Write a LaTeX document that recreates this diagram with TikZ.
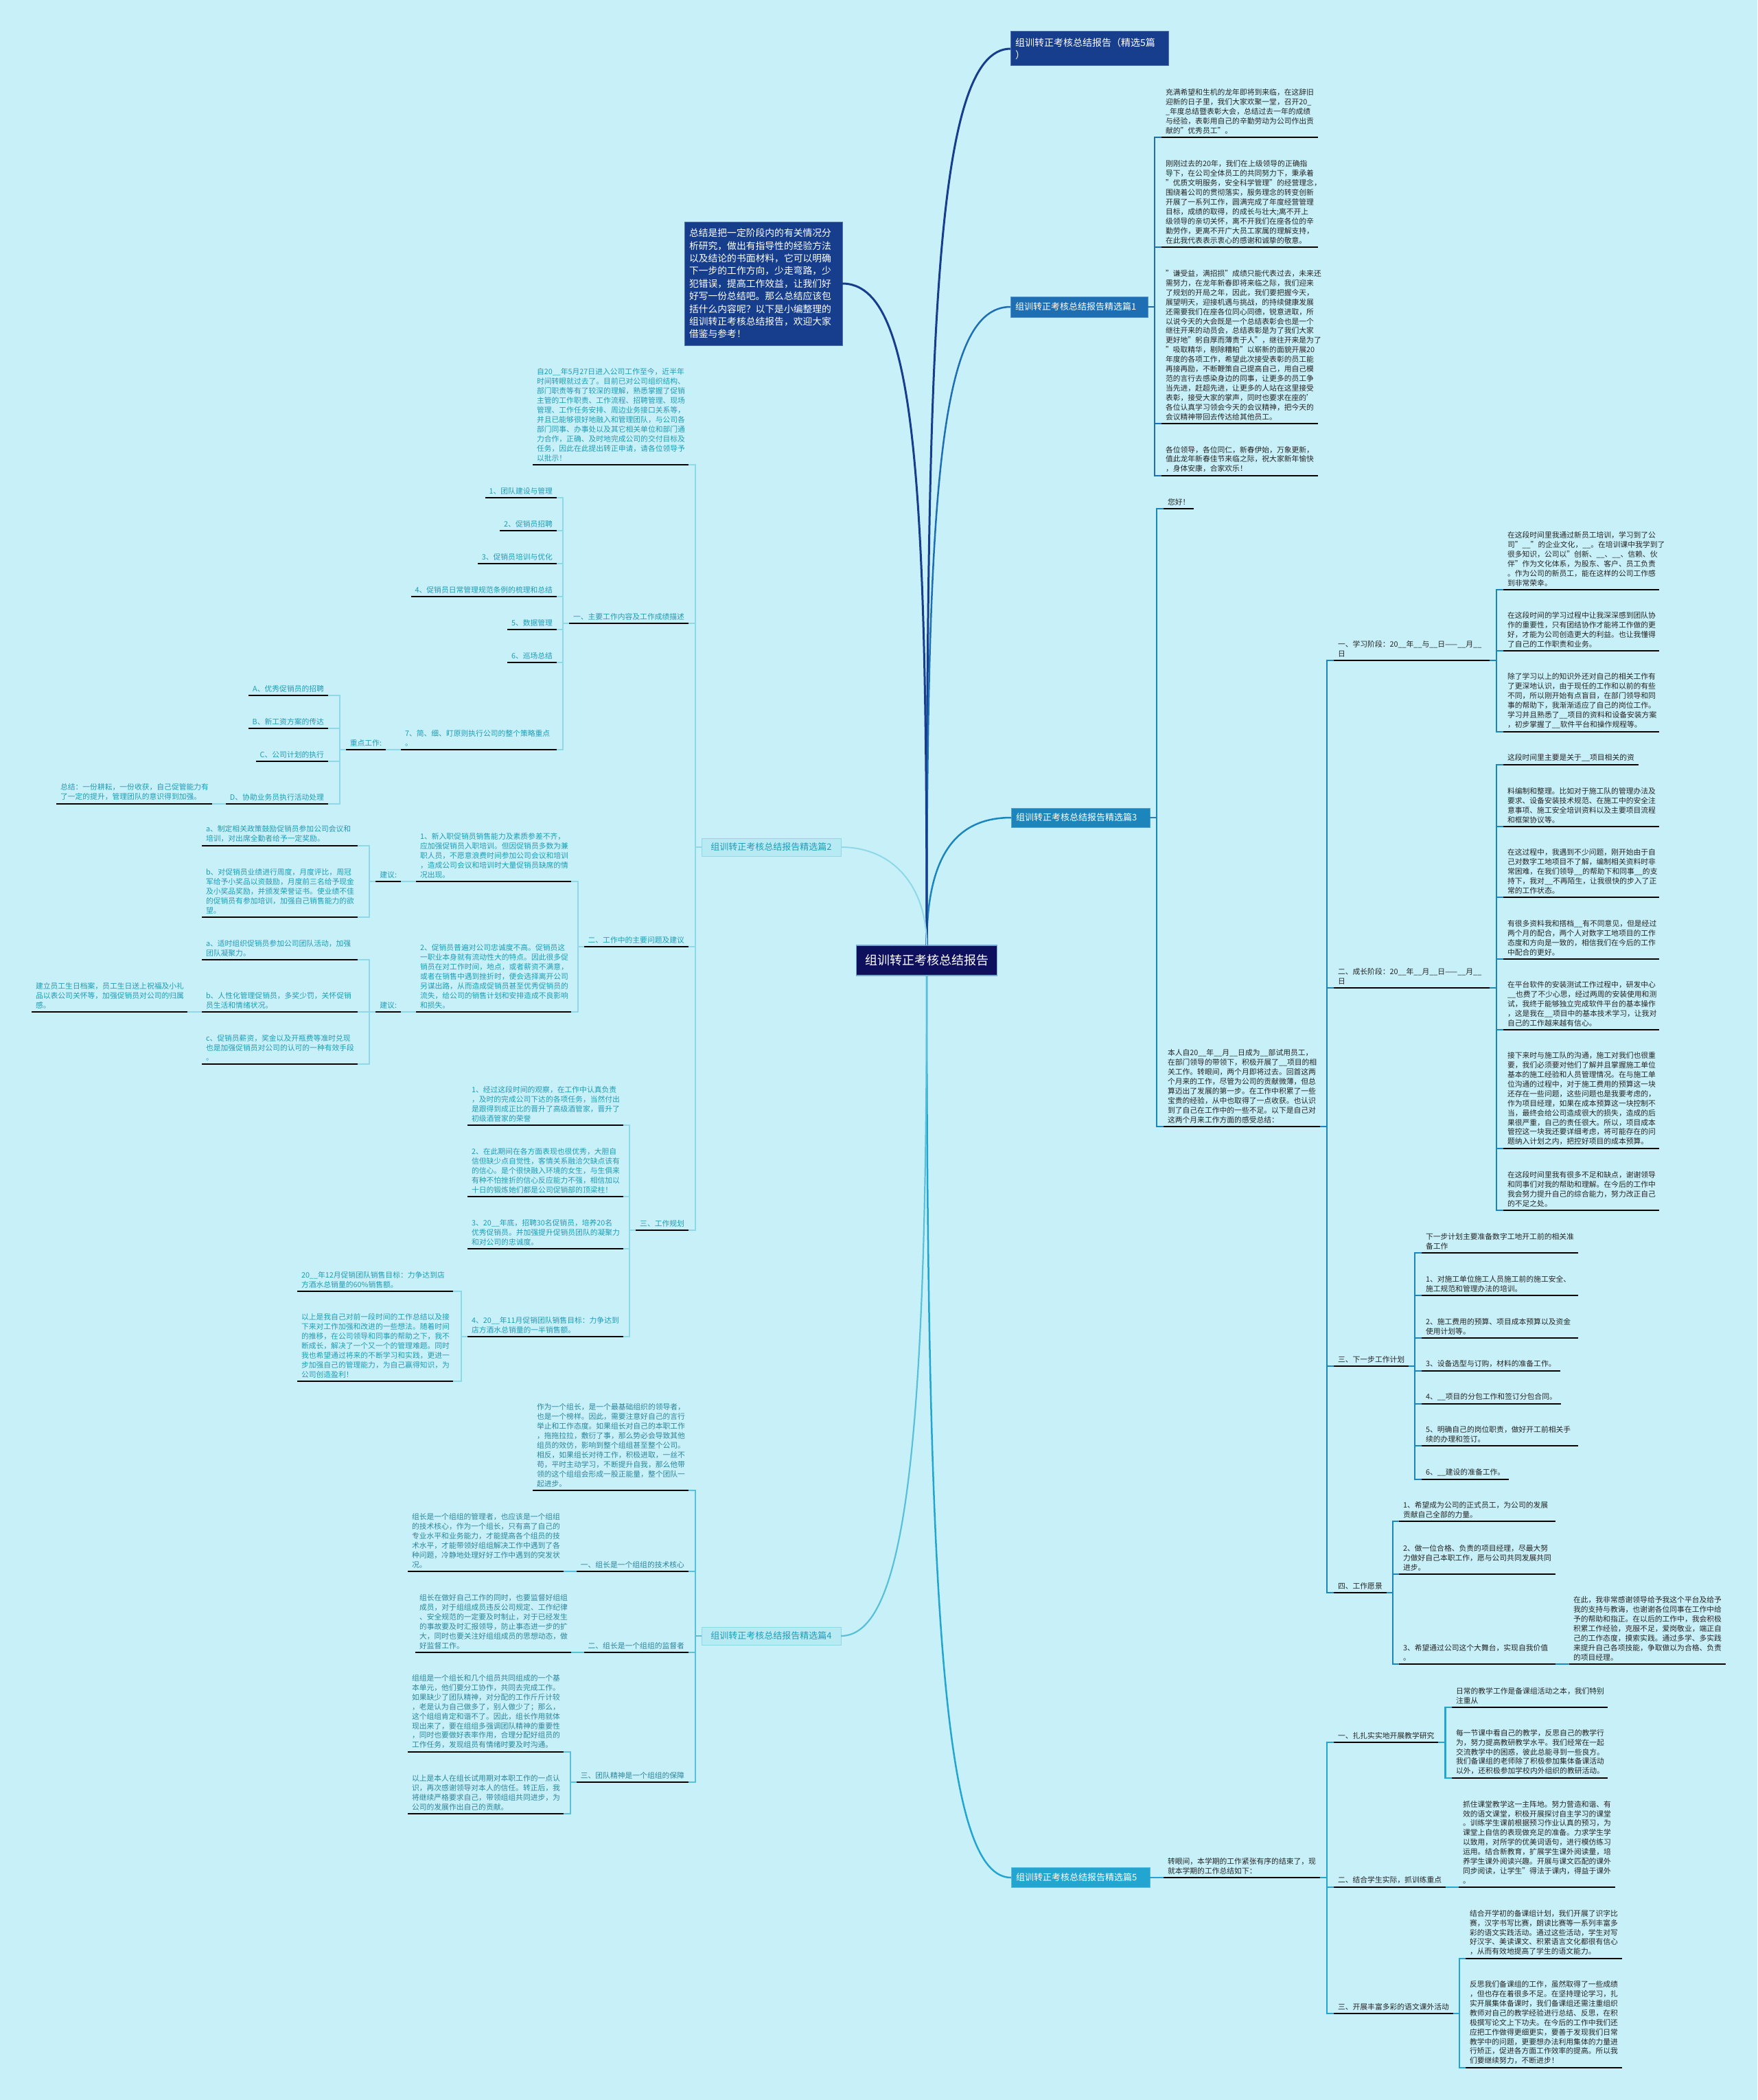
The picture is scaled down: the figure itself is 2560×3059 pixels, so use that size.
\documentclass[tikz,border=0pt]{standalone}
\usepackage{fontspec}
\setmainfont{Noto Sans CJK SC}
\usepackage{xcolor}
\usetikzlibrary{positioning, calc}

\definecolor{bgcyan}{RGB}{200,240,248}
\definecolor{rootnavy}{RGB}{14,16,94}
\definecolor{deepblue}{RGB}{22,62,140}
\definecolor{midblue}{RGB}{29,110,178}
\definecolor{seablue}{RGB}{28,134,188}
\definecolor{skyblue}{RGB}{34,165,208}
\definecolor{paleline}{RGB}{142,216,232}
\definecolor{tealline}{RGB}{88,192,216}
\definecolor{tealtext}{RGB}{30,156,182}
\definecolor{darkteal}{RGB}{44,134,156}
\definecolor{lightbox}{RGB}{184,234,244}

\tikzset{
  txt/.style={align=left, anchor=south west, inner xsep=6pt, inner ysep=5pt, outer sep=0pt,
    font=\fontsize{10.8}{13.9}\selectfont, text=black!85},
  ltxt/.style={txt, anchor=south east, text=tealtext},
  ktxt/.style={txt, anchor=south east, text=darkteal},
  topic/.style={rectangle, fill=#1, draw=#1!75!white, line width=1pt, text=white, outer sep=0pt,
    inner xsep=7pt, font=\fontsize{13}{18}\selectfont},
  pale/.style={rectangle, fill=lightbox, draw=paleline, line width=1pt, text=tealtext, outer sep=0pt,
    font=\fontsize{13}{18}\selectfont, minimum width=203pt, minimum height=26pt},
  bar/.style={line width=2.4pt, black},
  linkt/.style={line width=3pt, deepblue},
  link1/.style={line width=2.5pt, midblue},
  link3/.style={line width=2.5pt, seablue},
  link5/.style={line width=2.5pt, skyblue},
  link2/.style={line width=2pt, paleline},
  link4/.style={line width=2.2pt, tealline},
}

\begin{document}
\begin{tikzpicture}[x=1pt, y=-1pt]

    % Page
    \useasboundingbox (0,0) rectangle (2560,3059);
    \fill[bgcyan] (0,0) rectangle (2560,3059);

    % Root and main topics
    \node[fill=rootnavy, draw=midblue!60!white, line width=1.5pt, text=white, outer sep=0pt,
      font=\fontsize{18}{20}\selectfont, minimum width=205pt, minimum height=44pt] (root) at (1350,1399) {组训转正考核总结报告};
    \node[topic=deepblue, anchor=north west, text width=216pt, align=left, minimum height=50pt,
      font=\fontsize{14}{18.5}\selectfont] (b0) at (1472,46) {组训转正考核总结报告（精选5篇\\）};
    \node[topic=midblue, anchor=west, text width=186pt, align=left, minimum height=30pt] (b1) at (1472,447) {组训转正考核总结报告精选篇1};
    \node[topic=seablue, anchor=west, text width=188pt, align=left, minimum height=28pt] (b3) at (1473,1191) {组训转正考核总结报告精选篇3};
    \node[topic=skyblue, anchor=west, text width=188pt, align=left, minimum height=29pt] (b5) at (1473,2735) {组训转正考核总结报告精选篇5};
    \node[topic=deepblue, anchor=north west, text width=216pt, align=left, minimum height=180pt,
      font=\fontsize{13.8}{18.4}\selectfont] (bd) at (997,323) {总结是把一定阶段内的有关情况分\\析研究，做出有指导性的经验方法\\以及结论的书面材料，它可以明确\\下一步的工作方向，少走弯路，少\\犯错误，提高工作效益，让我们好\\好写一份总结吧。那么总结应该包\\括什么内容呢？以下是小编整理的\\组训转正考核总结报告，欢迎大家\\借鉴与参考！};
    \node[pale, anchor=east] (b2) at (1225,1234) {组训转正考核总结报告精选篇2};
    \node[pale, anchor=east] (b4) at (1225,2383) {组训转正考核总结报告精选篇4};

    \draw[linkt] (root.north) .. controls (1350,500) and (1360,71) .. (b0.west);
    \draw[link1] (root.north) .. controls (1350,700) and (1370,447) .. (b1.west);
    \draw[link3] (root.north) .. controls (1350,1250) and (1390,1191) .. (b3.west);
    \draw[link5] (root.south) .. controls (1350,2400) and (1380,2735) .. (b5.west);
    \draw[linkt] (root.north) .. controls (1350,700) and (1335,413) .. (bd.east);
    \draw[link2] (root.north) .. controls (1350,1290) and (1300,1234) .. (b2.east);
    \draw[link4] (root.south) .. controls (1350,2100) and (1320,2383) .. (b4.east);

    % Branch 1
    \node[txt, text width=216pt] (p1a) at (1692,200) {充满希望和生机的龙年即将到来临，在这辞旧\\迎新的日子里，我们大家欢聚一堂，召开20\_\\\_年度总结暨表彰大会，总结过去一年的成绩\\与经验，表彰用自己的辛勤劳动为公司作出贡\\献的"优秀员工"。};
    \node[txt, text width=216pt] (p1b) at (1692,360) {刚刚过去的20年，我们在上级领导的正确指\\导下，在公司全体员工的共同努力下，秉承着\\"优质文明服务，安全科学管理"的经营理念，\\围绕着公司的贯彻落实，服务理念的转变创新\\开展了一系列工作，圆满完成了年度经营管理\\目标，成绩的取得，的成长与壮大;离不开上\\级领导的亲切关怀，离不开我们在座各位的辛\\勤劳作，更离不开广大员工家属的理解支持，\\在此我代表表示衷心的感谢和诚挚的敬意。};
    \node[txt, text width=216pt] (p1c) at (1692,617) {"谦受益，满招损"成绩只能代表过去，未来还\\需努力，在龙年新春即将来临之际，我们迎来\\了规划的开局之年，因此，我们要把握今天，\\展望明天，迎接机遇与挑战，的持续健康发展\\还需要我们在座各位同心同德，锐意进取，所\\以说今天的大会既是一个总结表彰会也是一个\\继往开来的动员会，总结表彰是为了我们大家\\更好地"躬自厚而薄责于人"，继往开来是为了\\"吸取精华，剔除糟粕"以崭新的面貌开展20\\年度的各项工作，希望此次接受表彰的员工能\\再接再励，不断鞭策自己提高自己，用自己模\\范的言行去感染身边的同事，让更多的员工争\\当先进，赶超先进，让更多的人站在这里接受\\表彰，接受大家的掌声，同时也要求在座的'\\各位认真学习领会今天的会议精神，把今天的\\会议精神带回去传达给其他员工。};
    \node[txt, text width=216pt] (p1d) at (1692,693) {各位领导，各位同仁，新春伊始，万象更新，\\值此龙年新春佳节来临之际，祝大家新年愉快\\，身体安康，合家欢乐！};
    \foreach \n in {p1a,p1b,p1c,p1d}
      \draw[link1] (b1.east) -- ++(10,0) |- (\n.south west);

    % Branch 3
    \node[txt, text width=32pt] (hello) at (1695,741) {您好！};
    \node[txt, text width=216pt] (main3) at (1695,1641) {本人自20\_\_年\_\_月\_\_日成为\_\_部试用员工，\\在部门领导的带领下，积极开展了\_\_项目的相\\关工作。转眼间，两个月即将过去。回首这两\\个月来的工作，尽管为公司的贡献微薄，但总\\算迈出了发展的第一步。在工作中积累了一些\\宝贵的经验，从中也取得了一点收获。也认识\\到了自己在工作中的一些不足。以下是自己对\\这两个月来工作方面的感受总结：};
    \node[txt, text width=215pt] (s1) at (1943,962) {一、学习阶段：20\_\_年\_\_与\_\_日——\_\_月\_\_\\日};
    \node[txt, text width=215pt] (l1) at (2190,859) {在这段时间里我通过新员工培训，学习到了公\\司"\_\_"的企业文化，\_\_。在培训课中我学到了\\很多知识，公司以"创新、\_\_、\_\_、信赖、伙\\伴"作为文化体系，为股东、客户、员工负责\\。作为公司的新员工，能在这样的公司工作感\\到非常荣幸。};
    \node[txt, text width=215pt] (l2) at (2190,948) {在这段时间的学习过程中让我深深感到团队协\\作的重要性，只有团结协作才能将工作做的更\\好，才能为公司创造更大的利益。也让我懂得\\了自己的工作职责和业务。};
    \node[txt, text width=215pt] (l3) at (2190,1066) {除了学习以上的知识外还对自己的相关工作有\\了更深地认识，由于现任的工作和以前的有些\\不同，所以刚开始有点盲目，在部门领导和同\\事的帮助下，我渐渐适应了自己的岗位工作。\\学习并且熟悉了\_\_项目的资料和设备安装方案\\，初步掌握了\_\_软件平台和操作规程等。};
    \node[txt, text width=215pt] (s2) at (1943,1439) {二、成长阶段：20\_\_年\_\_月\_\_日——\_\_月\_\_\\日};
    \node[txt] (g1) at (2190,1114) {这段时间里主要是关于\_\_项目相关的资};
    \node[txt, text width=215pt] (g2) at (2190,1204) {料编制和整理。比如对于施工队的管理办法及\\要求、设备安装技术规范、在施工中的安全注\\意事项、施工安全培训资料以及主要项目流程\\和框架协议等。};
    \node[txt, text width=215pt] (g3) at (2190,1307) {在这过程中，我遇到不少问题，刚开始由于自\\己对数字工地项目不了解，编制相关资料时非\\常困难，在我们领导\_\_的帮助下和同事\_\_的支\\持下，我对\_\_不再陌生，让我很快的步入了正\\常的工作状态。};
    \node[txt, text width=215pt] (g4) at (2190,1397) {有很多资料我和搭档\_\_有不同意见，但是经过\\两个月的配合，两个人对数字工地项目的工作\\态度和方向是一致的，相信我们在今后的工作\\中配合的更好。};
    \node[txt, text width=215pt] (g5) at (2190,1500) {在平台软件的安装测试工作过程中，研发中心\\\_\_也费了不少心思，经过两周的安装使用和测\\试，我终于能够独立完成软件平台的基本操作\\，这是我在\_\_项目中的基本技术学习，让我对\\自己的工作越来越有信心。};
    \node[txt, text width=215pt] (g6) at (2190,1673) {接下来时与施工队的沟通，施工对我们也很重\\要，我们必须要对他们了解并且掌握施工单位\\基本的施工经验和人员管理情况。在与施工单\\位沟通的过程中，对于施工费用的预算这一块\\还存在一些问题，这些问题也是我要考虑的，\\作为项目经理，如果在成本预算这一块控制不\\当，最终会给公司造成很大的损失，造成的后\\果很严重，自己的责任很大。所以，项目成本\\管控这一块我还要详细考虑，将可能存在的问\\题纳入计划之内，把控好项目的成本预算。};
    \node[txt, text width=215pt] (g7) at (2190,1763) {在这段时间里我有很多不足和缺点，谢谢领导\\和同事们对我的帮助和理解。在今后的工作中\\我会努力提升自己的综合能力，努力改正自己\\的不足之处。};
    \node[txt] (s3) at (1943,1990) {三、下一步工作计划};
    \node[txt, text width=216pt] (n0) at (2071,1825) {下一步计划主要准备数字工地开工前的相关准\\备工作};
    \node[txt, text width=216pt] (n1) at (2071,1887) {1、对施工单位施工人员施工前的施工安全、\\施工规范和管理办法的培训。};
    \node[txt, text width=216pt] (n2) at (2071,1949) {2、施工费用的预算、项目成本预算以及资金\\使用计划等。};
    \node[txt] (n3) at (2071,1997) {3、设备选型与订购，材料的准备工作。};
    \node[txt] (n4) at (2071,2045) {4、\_\_项目的分包工作和签订分包合同。};
    \node[txt, text width=216pt] (n5) at (2071,2106) {5、明确自己的岗位职责，做好开工前相关手\\续的办理和签订。};
    \node[txt] (n6) at (2071,2155) {6、\_\_建设的准备工作。};
    \node[txt] (s4) at (1943,2320) {四、工作愿景};
    \node[txt, text width=216pt] (v1) at (2038,2216) {1、希望成为公司的正式员工，为公司的发展\\贡献自己全部的力量。};
    \node[txt, text width=216pt] (v2) at (2038,2293) {2、做一位合格、负责的项目经理，尽最大努\\力做好自己本职工作，愿与公司共同发展共同\\进步。};
    \node[txt, text width=216pt] (v3) at (2038,2424) {3、希望通过公司这个大舞台，实现自我价值\\。};
    \node[txt, text width=216pt] (v3c) at (2286,2424) {在此，我非常感谢领导给予我这个平台及给予\\我的支持与教诲，也谢谢各位同事在工作中给\\予的帮助和指正。在以后的工作中，我会积极\\积累工作经验，克服不足，爱岗敬业，端正自\\己的工作态度，摸索实践。通过多学、多实践\\来提升自己各项技能，争取做以为合格、负责\\的项目经理。};

    \foreach \n in {hello,main3}
      \draw[link3] (b3.east) -- ++(10,0) |- (\n.south west);
    \foreach \n in {s1,s2,s3,s4}
      \draw[link3] (main3.south east) -- ++(10,0) |- (\n.south west);
    \foreach \n in {l1,l2,l3}
      \draw[link3] (s1.south east) -- ++(10,0) |- (\n.south west);
    \foreach \n in {g1,g2,g3,g4,g5,g6,g7}
      \draw[link3] (s2.south east) -- ++(10,0) |- (\n.south west);
    \foreach \n in {n0,n1,n2,n3,n4,n5,n6}
      \draw[link3] (s3.south east) -- ++(9,0) |- (\n.south west);
    \foreach \n in {v1,v2,v3}
      \draw[link3] (s4.south east) -- ++(9,0) |- (\n.south west);
    \draw[link3] (v3.south east) -- (v3c.south west);

    % Branch 5
    \node[txt, text width=216pt] (m5) at (1695,2735) {转眼间，本学期的工作紧张有序的结束了，现\\就本学期的工作总结如下：};
    \node[txt] (e1) at (1943,2538) {一、扎扎实实地开展教学研究};
    \node[txt, text width=215pt] (x1) at (2115,2487) {日常的教学工作是备课组活动之本，我们特别\\注重从};
    \node[txt, text width=215pt] (x2) at (2115,2590) {每一节课中看自己的教学，反思自己的教学行\\为，努力提高教研教学水平。我们经常在一起\\交流教学中的困惑，彼此总能寻到一些良方。\\我们备课组的老师除了积极参加集体备课活动\\以外，还积极参加学校内外组织的教研活动。};
    \node[txt] (e2) at (1943,2749) {二、结合学生实际，抓训练重点};
    \node[txt, text width=216pt] (x3) at (2125,2749) {抓住课堂教学这一主阵地。努力营造和谐、有\\效的语文课堂，积极开展探讨自主学习的课堂\\。训练学生课前根据预习作业认真的预习，为\\课堂上自信的表现做充足的准备。力求学生学\\以致用，对所学的优美词语句，进行模仿练习\\运用。结合新教育，扩展学生课外阅读量，培\\养学生课外阅读兴趣。开展与课文匹配的课外\\同步阅读，让学生"得法于课内，得益于课外\\。};
    \node[txt] (e3) at (1943,2933) {三、开展丰富多彩的语文课外活动};
    \node[txt, text width=216pt] (f1) at (2135,2853) {结合开学初的备课组计划，我们开展了识字比\\赛，汉字书写比赛，朗读比赛等一系列丰富多\\彩的语文实践活动。通过这些活动，学生对写\\好汉字、美读课文、积累语言文化都很有信心\\，从而有效地提高了学生的语文能力。};
    \node[txt, text width=216pt] (f2) at (2135,3012) {反思我们备课组的工作，虽然取得了一些成绩\\，但也存在着很多不足。在坚持理论学习，扎\\实开展集体备课时，我们备课组还需注重组织\\教师对自己的教学经验进行总结、反思，在积\\极撰写论文上下功夫。在今后的工作中我们还\\应把工作做得更细更实，要善于发现我们日常\\教学中的问题，更要想办法利用集体的力量进\\行矫正，促进各方面工作效率的提高。所以我\\们要继续努力，不断进步！};

    \draw[link5] (b5.east) -- (m5.south west);
    \foreach \n in {e1,e2,e3}
      \draw[link5] (m5.south east) -- ++(10,0) |- (\n.south west);
    \foreach \n in {x1,x2}
      \draw[link5] (e1.south east) -- ++(10,0) |- (\n.south west);
    \draw[link5] (e2.south east) -- (x3.south west);
    \foreach \n in {f1,f2}
      \draw[link5] (e3.south east) -- ++(9,0) |- (\n.south west);

    % Branch 2
    \node[ltxt, text width=215pt] (p0) at (1003,677) {自20\_\_年5月27日进入公司工作至今，近半年\\时间转眼就过去了。目前已对公司组织结构、\\部门职责等有了较深的理解，熟悉掌握了促销\\主管的工作职责、工作流程、招聘管理、现场\\管理、工作任务安排、周边业务接口关系等，\\并且已能够很好地融入和管理团队，与公司各\\部门同事、办事处以及其它相关单位和部门通\\力合作，正确、及时地完成公司的交付目标及\\任务，因此在此提出转正申请，请各位领导予\\以批示！};
    \node[ltxt] (h1) at (1003,908) {一、主要工作内容及工作成绩描述};
    \node[ltxt] (i1) at (811,725) {1、团队建设与管理};
    \node[ltxt] (i2) at (811,773) {2、促销员招聘};
    \node[ltxt] (i3) at (811,821) {3、促销员培训与优化};
    \node[ltxt] (i4) at (811,869) {4、促销员日常管理规范条例的梳理和总结};
    \node[ltxt] (i5) at (811,917) {5、数据管理};
    \node[ltxt] (i6) at (811,965) {6、巡场总结};
    \node[ltxt, text width=215pt] (i7) at (811,1092) {7、简、细、盯原则执行公司的整个策略重点\\。};
    \node[ltxt] (kw) at (562,1092) {重点工作:};
    \node[ltxt] (ka) at (478,1013) {A、优秀促销员的招聘};
    \node[ltxt] (kb) at (478,1061) {B、新工资方案的传达};
    \node[ltxt] (kc) at (478,1109) {C、公司计划的执行};
    \node[ltxt] (kd) at (478,1171) {D、协助业务员执行活动处理};
    \node[ltxt, text width=215pt] (ksum) at (309,1171) {总结：一份耕耘，一份收获，自己促管能力有\\了一定的提升，管理团队的意识得到加强。};
    \node[ltxt] (h2) at (1003,1379) {二、工作中的主要问题及建议};
    \node[ltxt, text width=214pt] (q1) at (832,1284) {1、新入职促销员销售能力及素质参差不齐，\\应加强促销员入职培训。但因促销员多数为兼\\职人员，不愿意浪费时间参加公司会议和培训\\，造成公司会议和培训时大量促销员缺席的情\\况出现。};
    \node[ltxt] (jy1) at (584,1284) {建议:};
    \node[ltxt, text width=215pt] (qa1) at (521,1232) {a、制定相关政策鼓励促销员参加公司会议和\\培训，对出席全勤者给予一定奖励。};
    \node[ltxt, text width=215pt] (qb1) at (521,1336) {b、对促销员业绩进行周度，月度评比，周冠\\军给予小奖品以资鼓励，月度前三名给予现金\\及小奖品奖励，并颁发荣誉证书。使业绩不佳\\的促销员有参加培训，加强自己销售能力的欲\\望。};
    \node[ltxt, text width=214pt] (q2) at (832,1474) {2、促销员普遍对公司忠诚度不高。促销员这\\一职业本身就有流动性大的特点。因此很多促\\销员在对工作时间，地点，或者薪资不满意，\\或者在销售中遇到挫折时，便会选择离开公司\\另谋出路，从而造成促销员甚至优秀促销员的\\流失，给公司的销售计划和安排造成不良影响\\和损失。};
    \node[ltxt] (jy2) at (584,1474) {建议:};
    \node[ltxt, text width=215pt] (qa2) at (521,1398) {a、适时组织促销员参加公司团队活动，加强\\团队凝聚力。};
    \node[ltxt, text width=215pt] (qb2) at (521,1474) {b、人性化管理促销员，多奖少罚，关怀促销\\员生活和情绪状况。};
    \node[ltxt, text width=215pt] (qbc) at (273,1474) {建立员工生日档案，员工生日送上祝福及小礼\\品以表公司关怀等，加强促销员对公司的归属\\感。};
    \node[ltxt, text width=215pt] (qc2) at (521,1550) {c、促销员薪资，奖金以及开瓶费等准时兑现\\也是加强促销员对公司的认可的一种有效手段\\。};
    \node[ltxt] (h3) at (1003,1792) {三、工作规划};
    \node[ltxt, text width=215pt] (r1) at (908,1639) {1、经过这段时间的观察，在工作中认真负责\\，及时的完成公司下达的各项任务，当然付出\\是跟得到成正比的晋升了高级酒管家，晋升了\\初级酒管家的荣誉};
    \node[ltxt, text width=215pt] (r2) at (908,1743) {2、在此期间在各方面表现也很优秀，大胆自\\信但缺少点自觉性，客情关系融洽欠缺点该有\\的信心。是个很快融入环境的女生，与生俱来\\有种不怕挫折的信心反应能力不强，相信加以\\十日的锻炼她们都是公司促销部的顶梁柱！};
    \node[ltxt, text width=215pt] (r3) at (908,1819) {3、20\_\_年底，招聘30名促销员，培养20名\\优秀促销员。并加强提升促销员团队的凝聚力\\和对公司的忠诚度。};
    \node[ltxt, text width=215pt] (r4) at (908,1947) {4、20\_\_年11月促销团队销售目标：力争达到\\店方酒水总销量的一半销售额。};
    \node[ltxt, text width=215pt] (t1) at (660,1881) {20\_\_年12月促销团队销售目标：力争达到店\\方酒水总销量的60\%销售额。};
    \node[ltxt, text width=215pt] (t2) at (660,2012) {以上是我自己对前一段时间的工作总结以及接\\下来对工作加强和改进的一些想法。随着时间\\的推移，在公司领导和同事的帮助之下，我不\\断成长，解决了一个又一个的管理难题。同时\\我也希望通过将来的不断学习和实践，更进一\\步加强自己的管理能力，为自己赢得知识，为\\公司创造盈利！};

    \foreach \n in {p0,h1,h2,h3}
      \draw[link2] (b2.west) -- ++(-9,0) |- (\n.south east);
    \foreach \n in {i1,i2,i3,i4,i5,i6,i7}
      \draw[link2] (h1.south west) -- ++(-9,0) |- (\n.south east);
    \draw[link2] (i7.south west) -- (kw.south east);
    \foreach \n in {ka,kb,kc,kd}
      \draw[link2] (kw.south west) -- ++(-9,0) |- (\n.south east);
    \draw[link2] (kd.south west) -- (ksum.south east);
    \foreach \n in {q1,q2}
      \draw[link2] (h2.south west) -- ++(-9,0) |- (\n.south east);
    \draw[link2] (q1.south west) -- (jy1.south east);
    \draw[link2] (q2.south west) -- (jy2.south east);
    \foreach \n in {qa1,qb1}
      \draw[link2] (jy1.south west) -- ++(-9,0) |- (\n.south east);
    \foreach \n in {qa2,qb2,qc2}
      \draw[link2] (jy2.south west) -- ++(-9,0) |- (\n.south east);
    \draw[link2] (qb2.south west) -- (qbc.south east);
    \foreach \n in {r1,r2,r3,r4}
      \draw[link2] (h3.south west) -- ++(-9,0) |- (\n.south east);
    \foreach \n in {t1,t2}
      \draw[link2] (r4.south west) -- ++(-9,0) |- (\n.south east);

    % Branch 4
    \node[ktxt, text width=215pt] (u0) at (1003,2171) {作为一个组长，是一个最基础组织的领导者，\\也是一个榜样。因此，需要注意好自己的言行\\举止和工作态度。如果组长对自己的本职工作\\，拖拖拉拉，敷衍了事，那么势必会导致其他\\组员的效仿，影响到整个组组甚至整个公司。\\相反，如果组长对待工作，积极进取，一丝不\\苟，平时主动学习，不断提升自我，那么他带\\领的这个组组会形成一股正能量，整个团队一\\起进步。};
    \node[ktxt] (u1) at (1003,2289) {一、组长是一个组组的技术核心};
    \node[ktxt, text width=215pt] (u1c) at (821,2289) {组长是一个组组的管理者，也应该是一个组组\\的技术核心，作为一个组长，只有高了自己的\\专业水平和业务能力，才能提高各个组员的技\\术水平，才能带领好组组解决工作中遇到了各\\种问题，冷静地处理好好工作中遇到的突发状\\况。};
    \node[ktxt] (u2) at (1003,2407) {二、组长是一个组组的监督者};
    \node[ktxt, text width=215pt] (u2c) at (832,2407) {组长在做好自己工作的同时，也要监督好组组\\成员，对于组组成员违反公司规定、工作纪律\\、安全规范的一定要及时制止，对于已经发生\\的事故要及时汇报领导，防止事态进一步的扩\\大，同时也要关注好组组成员的思想动态，做\\好监督工作。};
    \node[ktxt] (u3) at (1003,2596) {三、团队精神是一个组组的保障};
    \node[ktxt, text width=215pt] (w1) at (821,2552) {组组是一个组长和几个组员共同组成的一个基\\本单元，他们要分工协作，共同去完成工作。\\如果缺少了团队精神，对分配的工作斤斤计较\\，老是认为自己做多了，别人做少了；那么，\\这个组组肯定和谐不了。因此，组长作用就体\\现出来了，要在组组多强调团队精神的重要性\\，同时也要做好表率作用，合理分配好组员的\\工作任务，发现组员有情绪时要及时沟通。};
    \node[ktxt, text width=215pt] (w2) at (821,2642) {以上是本人在组长试用期对本职工作的一点认\\识，再次感谢领导对本人的信任。转正后，我\\将继续严格要求自己，带领组组共同进步，为\\公司的发展作出自己的贡献。};

    \foreach \n in {u0,u1,u2,u3}
      \draw[link4] (b4.west) -- ++(-9,0) |- (\n.south east);
    \draw[link4] (u1.south west) -- (u1c.south east);
    \draw[link4] (u2.south west) -- (u2c.south east);
    \foreach \n in {w1,w2}
      \draw[link4] (u3.south west) -- ++(-9,0) |- (\n.south east);

    % Underlines
    \foreach \n in {p1a,p1b,p1c,p1d,hello,main3,s1,l1,l2,l3,s2,g1,g2,g3,g4,g5,g6,g7,
                   s3,n0,n1,n2,n3,n4,n5,n6,s4,v1,v2,v3,v3c,m5,e1,x1,x2,e2,x3,e3,f1,f2,
                   p0,h1,i1,i2,i3,i4,i5,i6,i7,kw,ka,kb,kc,kd,ksum,h2,q1,jy1,qa1,qb1,
                   q2,jy2,qa2,qb2,qbc,qc2,h3,r1,r2,r3,r4,t1,t2,u0,u1,u1c,u2,u2c,u3,w1,w2}
      \draw[bar] (\n.south west) -- (\n.south east);

\end{tikzpicture}
\end{document}
